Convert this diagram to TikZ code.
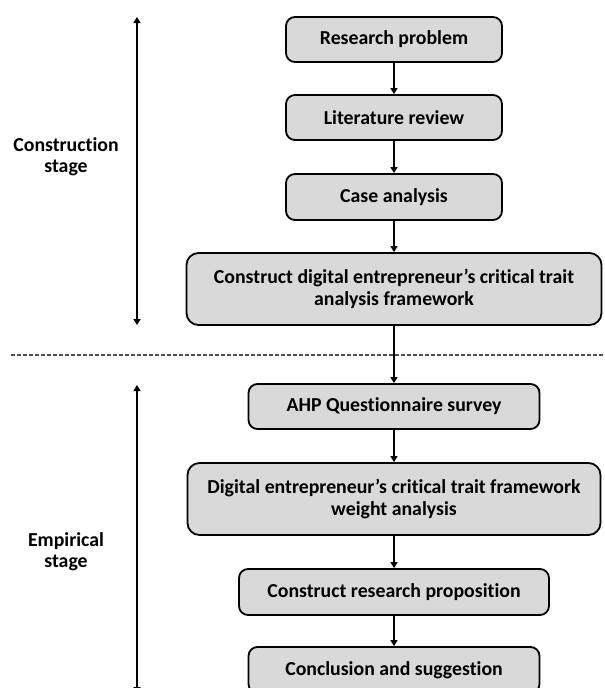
\documentclass[tikz,border=0pt]{standalone}
\usepackage{fontspec}
\setmainfont{Carlito}[Ligatures=NoCommon]
\usetikzlibrary{arrows.meta}
\definecolor{boxfill}{HTML}{D9D9D9}
\definecolor{dashgray}{HTML}{505050}
\tikzset{
  stepbox/.style={draw=black, line width=1.8pt, fill=boxfill, rounded corners=9pt,
    align=center, inner sep=0pt, font=\bfseries\fontsize{19.8}{22}\selectfont},
  flow/.style={line width=1.3pt, -{Triangle[length=6pt,width=7pt]}},
  span/.style={line width=1.5pt, {Triangle[length=6pt,width=7pt]}-{Triangle[length=6pt,width=7pt]}},
  stagelabel/.style={align=center, font=\bfseries\fontsize{19.8}{21}\selectfont}
}
\begin{document}
\begin{tikzpicture}[x=1pt,y=-1pt]
\useasboundingbox (0,0) rectangle (605,688);
\node[stepbox, minimum width=216pt, minimum height=45pt] (b1) at (394,39.5) {Research problem};
\node[stepbox, minimum width=216pt, minimum height=45pt] (b2) at (394,117.5) {Literature review};
\node[stepbox, minimum width=216pt, minimum height=46pt] (b3) at (394,197) {Case analysis};
\node[stepbox, minimum width=415pt, minimum height=72pt, rounded corners=12pt] (b4) at (394,289) {Construct digital entrepreneur’s critical trait\\analysis framework};
\node[stepbox, minimum width=291pt, minimum height=45pt] (b5) at (394,406.5) {AHP Questionnaire survey};
\node[stepbox, minimum width=413pt, minimum height=72pt, rounded corners=12pt] (b6) at (394,499) {Digital entrepreneur’s critical trait framework\\weight analysis};
\node[stepbox, minimum width=310pt, minimum height=46pt] (b7) at (394,592) {Construct research proposition};
\node[stepbox, minimum width=291pt, minimum height=46pt] (b8) at (394,670) {Conclusion and suggestion};

\draw[flow] (b1.south) -- (b2.north);
\draw[flow] (b2.south) -- (b3.north);
\draw[flow] (b3.south) -- (b4.north);
\draw[flow] (b4.south) -- (b5.north);
\draw[flow] (b5.south) -- (b6.north);
\draw[flow] (b6.south) -- (b7.north);
\draw[flow] (b7.south) -- (b8.north);

\coordinate (sepL) at (11,355);
\coordinate (sepR) at (605,355);
\draw[dashgray, line width=1.5pt, dash pattern=on 4pt off 2pt] (sepL) -- (sepR);

\coordinate (c1t) at (137,17);
\coordinate (c1b) at (137,325);
\coordinate (c2t) at (137,385);
\coordinate (c2b) at (137,693);
\draw[span] (c1t) -- (c1b);
\draw[span] (c2t) -- (c2b);

\node[stagelabel] (l1) at (66,157) {Construction\\stage};
\node[stagelabel] (l2) at (66,552) {Empirical\\stage};
\end{tikzpicture}
\end{document}
